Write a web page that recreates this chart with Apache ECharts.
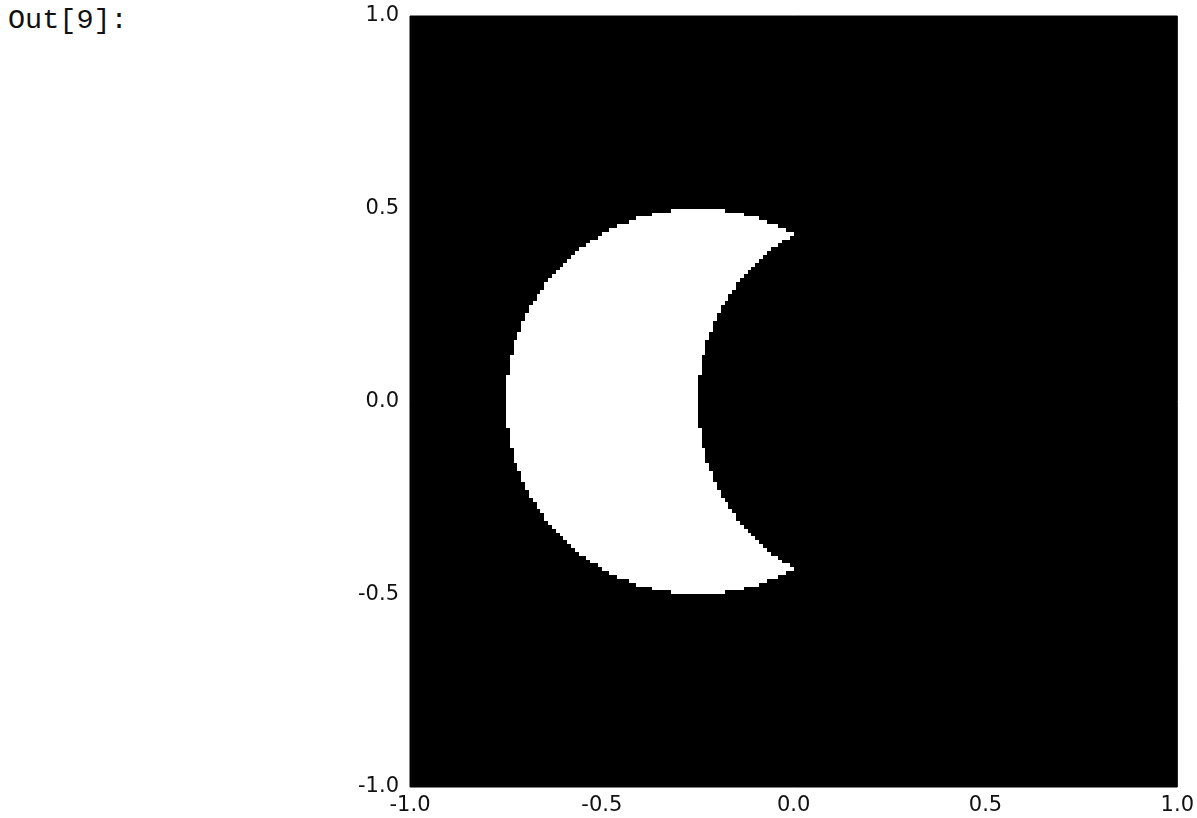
<!DOCTYPE html>
<html>
<head>
<meta charset="utf-8">
<script src="https://cdn.jsdelivr.net/npm/echarts@6/dist/echarts.min.js"></script>
<style>
html,body{margin:0;padding:0;background:#fff;}
#prompt{position:absolute;left:8px;top:4px;font-family:"Liberation Mono",monospace;font-size:28.5px;color:#111;}
#chart{width:1197px;height:818px;}
</style>
</head>
<body>
<div id="prompt">Out[9]:</div>
<div id="chart"></div>
<script>
// Shape: white disc minus a second (cut) disc, rendered on a pixel grid
const gridSize = 200;               // image cells per side
const extent = [-1, 1];             // image extent on both axes
const discCenter = [-0.25, 0.0];    // lit disc
const discRadius = 0.5;
const cutCenter = [0.25, 0.0];      // shadow disc removed from it
const cutRadius = 0.5;
const tickValues = [-1.0, -0.5, 0.0, 0.5, 1.0];

// one white run per image row (cells inside the disc and outside the cut)
const cell = (extent[1] - extent[0]) / gridSize;
const runs = [];
for (let r = 0; r < gridSize; r++) {
  const y = extent[0] + (r + 0.5) * cell;
  let start = -1, end = -1;
  for (let c = 0; c < gridSize; c++) {
    const x = extent[0] + (c + 0.5) * cell;
    const inDisc = (x - discCenter[0]) ** 2 + (y - discCenter[1]) ** 2 <= discRadius ** 2;
    const inCut = (x - cutCenter[0]) ** 2 + (y - cutCenter[1]) ** 2 <= cutRadius ** 2;
    if (inDisc && !inCut) {
      if (start < 0) start = c;
      end = c;
    }
  }
  if (start >= 0) {
    runs.push([extent[0] + r * cell, extent[0] + (r + 1) * cell,
               extent[0] + start * cell, extent[0] + (end + 1) * cell]);
  }
}

const chart = echarts.init(document.getElementById('chart'));
const labelStyle = {color: '#111', fontFamily: 'DejaVu Sans', fontSize: 21};
chart.setOption({
  animation: false,
  grid: {left: 410, top: 16, right: 15, bottom: 31, show: true, backgroundColor: '#000', borderColor: '#000', borderWidth: 1},
  xAxis: {
    type: 'value', min: extent[0], max: extent[1], interval: 0.5,
    axisLine: {show: false}, axisTick: {show: false}, splitLine: {show: false},
    axisLabel: Object.assign({margin: 8, formatter: v => v.toFixed(1), showMinLabel: true, showMaxLabel: true}, labelStyle)
  },
  yAxis: {
    type: 'value', min: extent[0], max: extent[1], interval: 0.5,
    axisLine: {show: false}, axisTick: {show: false}, splitLine: {show: false},
    axisLabel: Object.assign({margin: 11, formatter: v => v.toFixed(1), showMinLabel: true, showMaxLabel: true}, labelStyle)
  },
  series: [{
    type: 'custom',
    data: runs,
    encode: {x: [2, 3], y: [0, 1]},
    clip: true,
    renderItem: function (params, api) {
      const yLo = api.value(0), yHi = api.value(1), x0 = api.value(2), x1 = api.value(3);
      const p0 = api.coord([x0, yHi]);
      const p1 = api.coord([x1, yLo]);
      const left = Math.round(p0[0]), right = Math.round(p1[0]);
      const top = Math.round(p0[1]), bottom = Math.round(p1[1]);
      return {
        type: 'rect',
        shape: {x: left, y: top, width: right - left, height: bottom - top},
        style: {fill: '#fff'}
      };
    }
  }]
});
</script>
</body>
</html>
